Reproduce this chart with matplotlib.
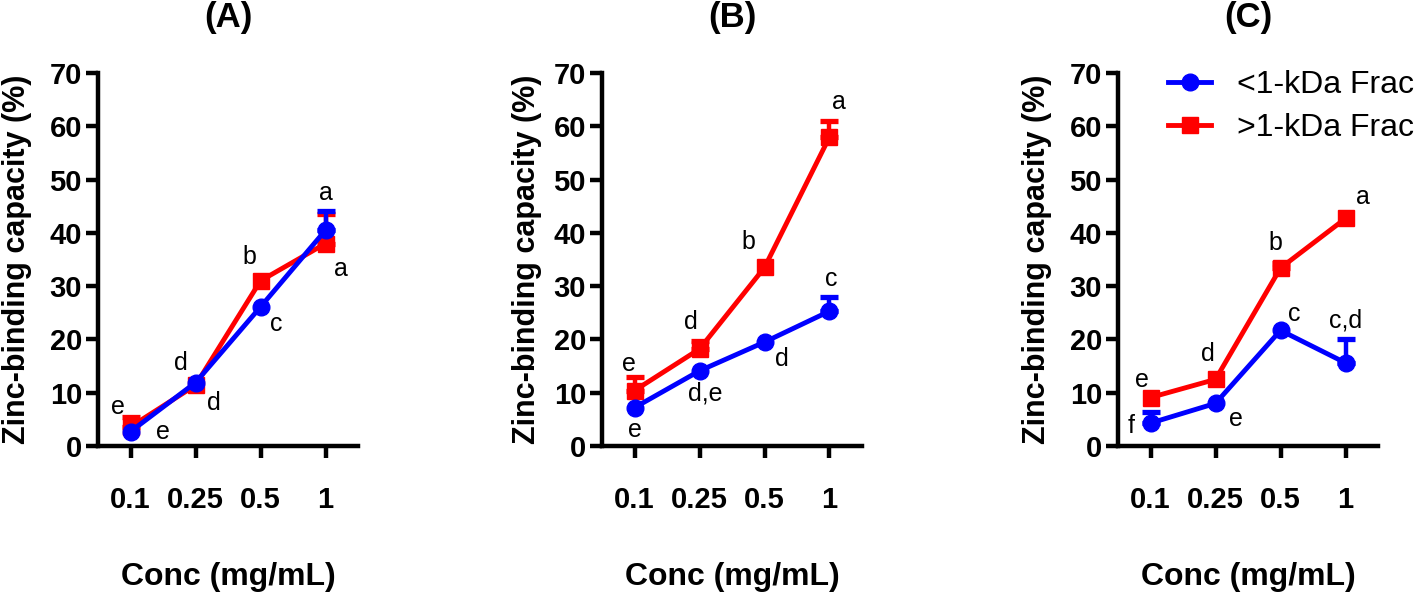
import matplotlib
matplotlib.use("Agg")
import matplotlib.pyplot as plt
import numpy as np

plt.rcParams['font.family'] = ['Liberation Sans', 'DejaVu Sans']

conc_labels = ["0.1", "0.25", "0.5", "1"]
panel_titles = ["(A)", "(B)", "(C)"]
series_names = ["<1-kDa Frac", ">1-kDa Frac"]

# Panel A
a_small = [2.7, 11.9, 26.1, 40.5]
a_small_err = [0.0, 0.0, 0.0, 3.6]
a_large = [3.6, 11.4, 31.0, 38.0]
a_large_err = [1.9, 0.0, 0.0, 5.5]
a_small_letters = ["e", "d", "c", "a"]
a_large_letters = ["e", "d", "b", "a"]

# Panel B
b_small = [7.2, 14.1, 19.5, 25.3]
b_small_err = [0.0, 0.0, 0.0, 2.6]
b_large = [10.4, 18.2, 33.5, 58.0]
b_large_err = [2.5, 1.5, 0.0, 3.0]
b_small_letters = ["e", "d,e", "d", "c"]
b_large_letters = ["e", "d", "b", "a"]

# Panel C
c_small = [4.3, 8.0, 21.7, 15.6]
c_small_err = [2.0, 0.0, 0.0, 4.5]
c_large = [9.1, 12.5, 33.4, 42.7]
c_large_err = [0.0, 0.0, 1.0, 0.0]
c_small_letters = ["f", "e", "c", "c,d"]
c_large_letters = ["e", "d", "b", "a"]

# label offsets (pixels) relative to each point
a_small_off = [(32, 0), (18, -20), (16, -17), (0, 37)]
a_large_off = [(-13, 20), (-15, 22), (-11, 24), (15, -25)]
b_small_off = [(0, -22), (6, -23), (17, -17), (2, 32)]
b_large_off = [(-6, 27), (-9, 27), (-16, 25), (9, 35)]
c_small_off = [(-19, -3), (20, -16), (14, 16), (0, 42)]
c_large_off = [(-9, 18), (-8, 25), (-5, 25), (17, 21)]

panels = [
    (a_small, a_small_err, a_large, a_large_err, a_small_letters, a_large_letters, a_small_off, a_large_off),
    (b_small, b_small_err, b_large, b_large_err, b_small_letters, b_large_letters, b_small_off, b_large_off),
    (c_small, c_small_err, c_large, c_large_err, c_small_letters, c_large_letters, c_small_off, c_large_off),
]

W, H = 1418, 598
fig = plt.figure(figsize=(W / 100, H / 100), dpi=100)
lefts = [98, 602, 1118]
ylabel_x = [-0.254, -0.23, -0.254]
blue = "#0000FF"
red = "#FF0000"
x = np.arange(len(conc_labels))

handles = []
for i, (ps, pse, pl, ple, ls, ll, so, lo) in enumerate(panels):
    ax = fig.add_axes([lefts[i] / W, (H - 446) / H, 260 / W, 373 / H])
    for vals, errs, col, mk, name, z in [(pl, ple, red, 's', series_names[1], 3),
                                         (ps, pse, blue, 'o', series_names[0], 4)]:
        vals = np.asarray(vals, dtype=float)
        errs = np.asarray(errs, dtype=float)
        m = errs > 0
        if m.any():
            ax.errorbar(x[m], vals[m], yerr=[np.zeros(m.sum()), errs[m]], color=col,
                        fmt='none', elinewidth=3.2, capsize=6.5, capthick=3.8,
                        clip_on=False, zorder=z)
        ln, = ax.plot(x, vals, color=col, marker=mk, markersize=12, linewidth=3.5,
                      clip_on=False, zorder=z)
        if i == 2:
            handles.append((ln, name))
    for vals, letters, offs in [(ps, ls, so), (pl, ll, lo)]:
        for xi, v, t, o in zip(x, vals, letters, offs):
            ax.annotate(t, (xi, v), xytext=o, textcoords='offset pixels',
                        ha='center', va='center', fontsize=18)
    ax.set_xlim(-0.5, 3.5)
    ax.set_ylim(0, 70)
    ax.set_yticks(np.arange(0, 71, 10))
    ax.set_xticks(x)
    ax.set_xticklabels(conc_labels)
    for s in ['top', 'right']:
        ax.spines[s].set_visible(False)
    for s in ['left', 'bottom']:
        ax.spines[s].set_linewidth(3.2)
    ax.tick_params(axis='both', length=8.5, width=3.2, labelsize=21)
    ax.tick_params(axis='x', pad=20)
    ax.tick_params(axis='y', pad=3)
    for lab in ax.get_xticklabels() + ax.get_yticklabels():
        lab.set_fontweight('bold')
    ax.set_ylabel("Zinc-binding capacity (%)", fontsize=22, fontweight='bold')
    ax.yaxis.set_label_coords(ylabel_x[i], 0.5)
    ax.set_xlabel("Conc (mg/mL)", fontsize=23, fontweight='bold')
    ax.xaxis.set_label_coords(0.5, -0.31)
    ax.set_title(panel_titles[i], fontsize=25, fontweight='bold', y=1.10)

handles = handles[::-1]
fig.legend([h for h, n in handles], [n for h, n in handles],
           loc='upper left', bbox_to_anchor=(1168 / W, 1 - 70 / H),
           frameon=False, fontsize=23, handlelength=1.35, handletextpad=0.8,
           labelspacing=0.4, borderpad=0, borderaxespad=0)

fig.savefig("out.png", dpi=100)
